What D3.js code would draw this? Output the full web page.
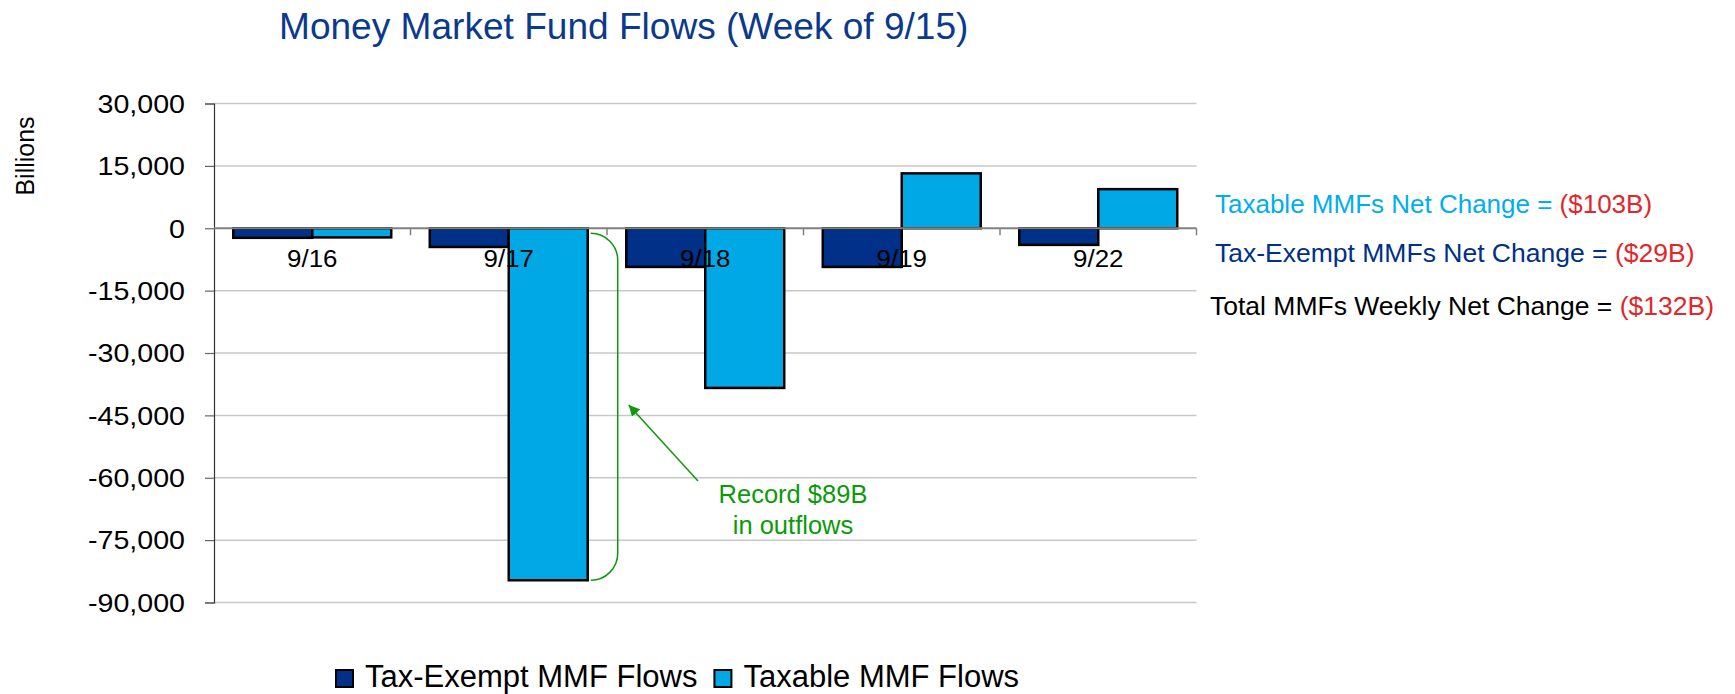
<!DOCTYPE html>
<html>
<head>
<meta charset="utf-8">
<script src="https://cdn.jsdelivr.net/npm/d3@7"></script>
<style>
  html, body { margin: 0; padding: 0; background: #fff; }
  svg { display: block; font-family: "Liberation Sans", Arial, sans-serif; }
</style>
</head>
<body>
<div id="chart"></div>
<script>
// Daily flows, in billions (axis shows the raw units)
const dates = ['9/16', '9/17', '9/18', '9/19', '9/22'];
const seriesNames = ['Tax-Exempt MMF Flows', 'Taxable MMF Flows'];
const taxExemptFlows = [-2300, -4500, -9300, -9300, -4000];
const taxableFlows = [-2200, -84650, -38400, 13200, 9400];
const yTicks = [30000, 15000, 0, -15000, -30000, -45000, -60000, -75000, -90000];

const summaryLines = [
  { label: 'Taxable MMFs Net Change = ', value: '($103B)', color: '#00AEEF' },
  { label: 'Tax-Exempt MMFs Net Change = ', value: '($29B)', color: '#003087' },
  { label: 'Total MMFs Weekly Net Change = ', value: '($132B)', color: '#000000' }
];

const colors = { 'Tax-Exempt MMF Flows': '#003087', 'Taxable MMF Flows': '#00A9E6' };
const green = '#0A9A0A';

const width = 1735, height = 694;
const margin = { top: 103.5, right: 538.5, bottom: 91, left: 214 };

const svg = d3.select('#chart').append('svg')
  .attr('width', width)
  .attr('height', height);

// rows for grouped bars
const rows = dates.map((d, i) => ({
  date: d,
  values: [
    { key: seriesNames[0], value: taxExemptFlows[i] },
    { key: seriesNames[1], value: taxableFlows[i] }
  ]
}));

const x0 = d3.scaleBand()
  .domain(dates)
  .range([margin.left, width - margin.right])
  .padding(0);

const x1 = d3.scaleBand()
  .domain(seriesNames)
  .range([0, x0.bandwidth()])
  .paddingInner(0)
  .paddingOuter(0.244);

const y = d3.scaleLinear()
  .domain([-90000, 30000])
  .range([height - margin.bottom - 0.5, margin.top]);

// text helper, some labels in the source are a bit wider than plain Arial
function stretchedText(parent, x, yPos, sx) {
  return parent.append('text')
    .attr('transform', `translate(${x},${yPos}) scale(${sx},1)`);
}

// Title
stretchedText(svg, 279, 38.5, 1.03)
  .attr('font-size', 36)
  .attr('fill', '#0B3A8C')
  .text('Money Market Fund Flows (Week of 9/15)');

// Gridlines
svg.append('g')
  .selectAll('line')
  .data(yTicks.filter(t => t !== 0))
  .join('line')
  .attr('x1', margin.left)
  .attr('x2', width - margin.right)
  .attr('y1', d => y(d))
  .attr('y2', d => y(d))
  .attr('stroke', '#C8C8C8')
  .attr('stroke-width', 1.5);

// Y axis
const yAxis = svg.append('g')
  .attr('transform', `translate(${margin.left},0)`)
  .call(d3.axisLeft(y).tickValues(yTicks).tickSize(9).tickPadding(0).tickFormat(() => ''));
yAxis.select('.domain').attr('stroke', '#333').attr('stroke-width', 1.2);
yAxis.selectAll('.tick line').attr('stroke', '#666').attr('stroke-width', 1.2);

// plain hyphen for negatives, as in the source
const fmt = d3.formatLocale({ decimal: '.', thousands: ',', grouping: [3], currency: ['$', ''], minus: '-' }).format(',');
svg.append('g')
  .selectAll('text')
  .data(yTicks)
  .join('text')
  .attr('transform', d => `translate(185,${y(d)}) scale(1.1,1)`)
  .attr('dy', '0.36em')
  .attr('text-anchor', 'end')
  .attr('font-size', 26)
  .attr('fill', '#000')
  .text(d => fmt(d));

// Y axis title
svg.append('text')
  .attr('transform', 'translate(34,156) rotate(-90)')
  .attr('text-anchor', 'middle')
  .attr('font-size', 25)
  .attr('fill', '#000')
  .text('Billions');

// Bars
const groups = svg.append('g')
  .selectAll('g')
  .data(rows)
  .join('g')
  .attr('transform', d => `translate(${x0(d.date)},0)`);

groups.selectAll('rect')
  .data(d => d.values)
  .join('rect')
  .attr('x', d => x1(d.key))
  .attr('y', d => y(Math.max(0, d.value)))
  .attr('width', x1.bandwidth())
  .attr('height', d => Math.abs(y(d.value) - y(0)))
  .attr('fill', d => colors[d.key])
  .attr('stroke', '#000')
  .attr('stroke-width', 2.5);

// Zero line with category ticks
svg.append('line')
  .attr('x1', margin.left)
  .attr('x2', width - margin.right)
  .attr('y1', y(0))
  .attr('y2', y(0))
  .attr('stroke', '#808080')
  .attr('stroke-width', 2);

const boundaries = dates.map(d => x0(d)).concat([x0.range()[1]]);
svg.append('g')
  .selectAll('line')
  .data(boundaries.slice(1))
  .join('line')
  .attr('x1', d => d)
  .attr('x2', d => d)
  .attr('y1', y(0))
  .attr('y2', y(0) + 7)
  .attr('stroke', '#808080')
  .attr('stroke-width', 1.5);

// Category labels (sit on top of bars like in the source)
svg.append('g')
  .selectAll('text')
  .data(dates)
  .join('text')
  .attr('transform', d => `translate(${x0(d) + x0.bandwidth() / 2},266.5) scale(1.08,1)`)
  .attr('text-anchor', 'middle')
  .attr('font-size', 24)
  .attr('fill', '#000')
  .text(d => d);

// Annotation: brace along the 9/17 taxable bar + arrow + note
const recordIdx = 1;
const braceX = x0(dates[recordIdx]) + x1(seriesNames[1]) + x1.bandwidth() + 3;
const braceR = 27;
const braceTop = y(0) + 5;
const braceBottom = y(taxableFlows[recordIdx]);
const ann = svg.append('g');

ann.append('path')
  .attr('d', `M${braceX},${braceTop} A${braceR},${braceR} 0 0 1 ${braceX + braceR},${braceTop + braceR}` +
    ` L${braceX + braceR},${braceBottom - braceR} A${braceR},${braceR} 0 0 1 ${braceX},${braceBottom}`)
  .attr('fill', 'none')
  .attr('stroke', green)
  .attr('stroke-width', 1.5);

svg.append('defs').append('marker')
  .attr('id', 'arrow')
  .attr('viewBox', '0 0 10 10')
  .attr('refX', 10)
  .attr('refY', 5)
  .attr('markerWidth', 11)
  .attr('markerHeight', 11)
  .attr('markerUnits', 'userSpaceOnUse')
  .attr('orient', 'auto')
  .append('path')
  .attr('d', 'M0,0 L10,5 L0,10 z')
  .attr('fill', green);

const tip = [braceX + braceR + 11, y(-42500)];
ann.append('line')
  .attr('x1', 698)
  .attr('y1', 481)
  .attr('x2', tip[0])
  .attr('y2', tip[1])
  .attr('stroke', green)
  .attr('stroke-width', 1.5)
  .attr('marker-end', 'url(#arrow)');

ann.append('text')
  .attr('x', 793)
  .attr('y', 502.5)
  .attr('text-anchor', 'middle')
  .attr('font-size', 25.5)
  .attr('fill', green)
  .text('Record $89B');

ann.append('text')
  .attr('x', 793)
  .attr('y', 534)
  .attr('text-anchor', 'middle')
  .attr('font-size', 25.5)
  .attr('fill', green)
  .text('in outflows');

// Net change summary on the right
const summaryPos = [
  { x: 1215, y: 212.5, size: 25, sx: 1.04 },
  { x: 1215, y: 261.5, size: 25.5, sx: 1.04 },
  { x: 1210, y: 314.5, size: 26.5, sx: 1.0 }
];
summaryLines.forEach((s, i) => {
  const p = summaryPos[i];
  const t = stretchedText(svg, p.x, p.y, p.sx)
    .attr('font-size', p.size);
  t.append('tspan').attr('fill', s.color).text(s.label);
  t.append('tspan').attr('fill', '#E3262B').text(s.value);
});

// Legend (pulled up a little so descenders stay inside the frame)
const legend = svg.append('g');
let lx = 336;
seriesNames.forEach(name => {
  legend.append('rect')
    .attr('x', lx)
    .attr('y', 670)
    .attr('width', 17)
    .attr('height', 17)
    .attr('fill', colors[name])
    .attr('stroke', '#000')
    .attr('stroke-width', 2);
  const t = legend.append('text')
    .attr('x', lx + 29)
    .attr('y', 687)
    .attr('font-size', 31)
    .attr('fill', '#000')
    .text(name);
  lx += 29 + t.node().getComputedTextLength() + 17;
});
</script>
</body>
</html>
